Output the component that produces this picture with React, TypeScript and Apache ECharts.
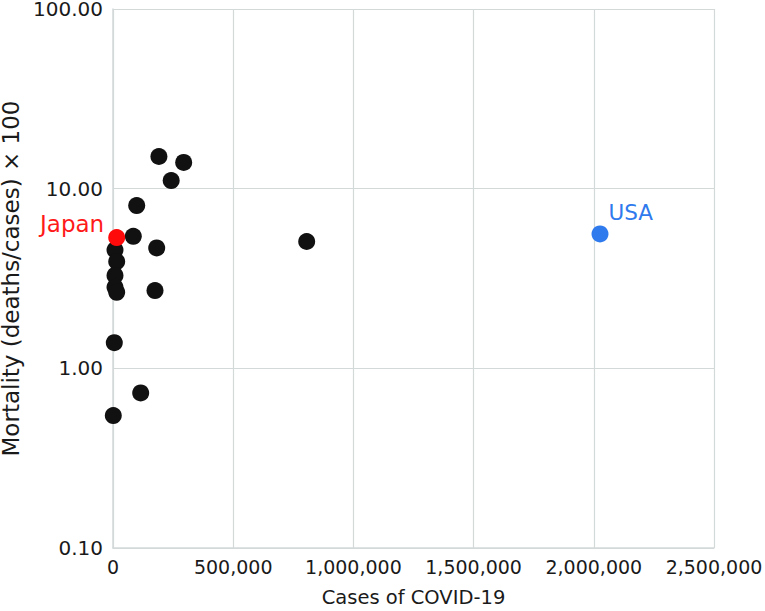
import React, { useEffect, useRef } from "react";
import * as echarts from "echarts";

// Other countries: [cases, mortality %]
const otherCases = [191000, 294000, 242000, 98600, 84400, 8300, 181800, 15400, 8300, 8300, 15400, 174700, 5400, 805700, 115200, 1200];
const otherMortality = [15.1, 14.0, 11.1, 8.05, 5.43, 4.56, 4.68, 3.93, 3.29, 2.83, 2.65, 2.71, 1.39, 5.08, 0.73, 0.546];

const japanPoint = { name: "Japan", cases: 15400, mortality: 5.34 };
const usaPoint = { name: "USA", cases: 2025800, mortality: 5.6 };

const xTicks = [0, 500000, 1000000, 1500000, 2000000, 2500000];
const yTicks = [0.1, 1, 10, 100];

const FONT = "'DejaVu Sans', Verdana, sans-serif";

export default function App() {
  const ref = useRef<HTMLDivElement>(null);
  useEffect(() => {
    if (!ref.current) return;
    const chart = echarts.init(ref.current, null, { renderer: "svg" });
    const gridColor = "#d3d9d9";
    chart.setOption({
      animation: false,
      grid: { left: 113, right: 51, top: 9, bottom: 63, containLabel: false, outerBoundsMode: "none" },
      xAxis: {
        type: "value",
        min: xTicks[0],
        max: xTicks[xTicks.length - 1],
        interval: 500000,
        name: "Cases of COVID-19",
        nameLocation: "middle",
        nameGap: 39,
        nameTextStyle: { fontFamily: FONT, fontSize: 19.5, color: "#1a1a1a" },
        axisLine: { show: true, lineStyle: { color: gridColor, width: 1.5 } },
        axisTick: { show: false },
        axisLabel: {
          fontFamily: FONT,
          fontSize: 19,
          color: "#1a1a1a",
          margin: 9,
          formatter: (v: number) => v.toLocaleString("en-US"),
        },
        splitLine: { show: true, lineStyle: { color: gridColor, width: 1.2 } },
      },
      yAxis: {
        type: "log",
        logBase: 10,
        min: yTicks[0],
        max: yTicks[yTicks.length - 1],
        name: "Mortality (deaths/cases) × 100",
        nameLocation: "middle",
        nameGap: 87,
        nameTextStyle: { fontFamily: FONT, fontSize: 23, color: "#1a1a1a" },
        axisLine: { show: true, lineStyle: { color: gridColor, width: 1.5 } },
        axisTick: { show: false },
        axisLabel: {
          fontFamily: FONT,
          fontSize: 20,
          color: "#1a1a1a",
          margin: 10,
          formatter: (v: number) => v.toFixed(2),
        },
        splitLine: { show: true, lineStyle: { color: gridColor, width: 1.2 } },
      },
      series: [
        {
          type: "scatter",
          symbolSize: 17,
          itemStyle: { color: "#111111", opacity: 1 },
          data: otherCases.map((c, i) => [c, otherMortality[i]]),
        },
        {
          type: "scatter",
          symbolSize: 17,
          itemStyle: { color: "#ff0a0a", opacity: 1 },
          label: {
            show: true,
            position: "left",
            distance: 4,
            offset: [0, -14],
            formatter: japanPoint.name,
            fontFamily: FONT,
            fontSize: 23,
            color: "#ff1a1a",
          },
          data: [[japanPoint.cases, japanPoint.mortality]],
        },
        {
          type: "scatter",
          symbolSize: 17,
          itemStyle: { color: "#2f7aed", opacity: 1 },
          label: {
            show: true,
            position: "right",
            distance: 0,
            offset: [0, -21],
            formatter: usaPoint.name,
            fontFamily: FONT,
            fontSize: 21.5,
            color: "#2f7aed",
          },
          data: [[usaPoint.cases, usaPoint.mortality]],
        },
      ],
    });
    return () => chart.dispose();
  }, []);
  return <div ref={ref} style={{ width: 765, height: 611, position: "absolute", left: 0, top: 0 }} />;
}
